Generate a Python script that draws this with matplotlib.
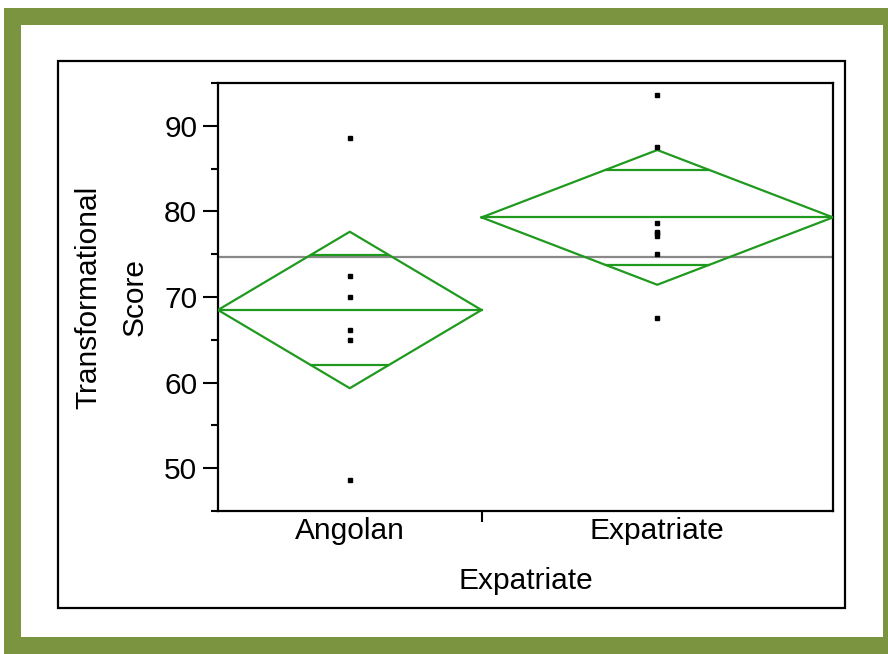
import numpy as np
import matplotlib
matplotlib.use('Agg')
import matplotlib.pyplot as plt
from matplotlib.patches import Rectangle

plt.rcParams['font.family'] = ['Liberation Sans', 'DejaVu Sans']

# data
groups = ['Angolan', 'Expatriate']
angolan = [88.6, 72.5, 70.0, 66.2, 65.0, 48.6]
expatriate = [93.6, 87.5, 78.6, 77.6, 77.5, 77.1, 75.0, 67.5]
ci_half = [9.14, 7.87]   # half height of the means diamonds

green = '#1f9a1f'
fs = 21.5

fig = plt.figure(figsize=(8.88, 6.54), dpi=100)
W, H = 888, 654

# green border, white panel, black frame
fig.patches.append(Rectangle((4 / W, 0), 884 / W, 646 / H, transform=fig.transFigure,
                             facecolor='#7a9440', edgecolor='none', zorder=-3))
fig.patches.append(Rectangle((21 / W, 17 / H), 862 / W, 612 / H, transform=fig.transFigure,
                             facecolor='white', edgecolor='none', zorder=-2))
fig.patches.append(Rectangle((58 / W, 46 / H), 787 / W, 547 / H, transform=fig.transFigure,
                             facecolor='none', edgecolor='black', linewidth=1.6, zorder=-1))

ax = fig.add_axes([218 / W, 1 - 511 / H, (833 - 218) / W, (511 - 83) / H])
ax.set_zorder(5)
ax.set_facecolor('white')

data = [angolan, expatriate]
counts = [len(d) for d in data]
edges = np.concatenate([[0], np.cumsum(counts)])
centers = (edges[:-1] + edges[1:]) / 2
grand = np.mean(angolan + expatriate)

ax.axhline(grand, color='#888888', linewidth=1.6, zorder=2)

for i, vals in enumerate(data):
    m = np.mean(vals)
    h = ci_half[i]
    x0, x1, xc = edges[i], edges[i + 1], centers[i]
    ax.plot([x0, xc, x1, xc, x0], [m, m + h, m, m - h, m], color=green, linewidth=1.6, zorder=3)
    ax.plot([x0, x1], [m, m], color=green, linewidth=1.6, zorder=3)
    d = (x1 - xc) * (1 - 1 / np.sqrt(2))
    for s in (1, -1):
        ax.plot([xc - d, xc + d], [m + s * h / np.sqrt(2)] * 2, color=green, linewidth=1.6, zorder=3)
    ax.plot([xc] * len(vals), vals, 's', color='black', markersize=3, zorder=4)

ax.set_xlim(edges[0], edges[-1])
ax.set_ylim(45, 95)

ax.set_yticks([50, 60, 70, 80, 90])
ax.set_yticks(np.arange(45, 96, 10), minor=True)
ax.tick_params(axis='y', which='major', length=11, width=1.5, labelsize=fs, pad=4)
ax.tick_params(axis='y', which='minor', length=5, width=1.5)

ax.set_xticks(centers)
ax.set_xticklabels(groups)
ax.set_xticks(edges[1:-1], minor=True)
ax.tick_params(axis='x', which='major', length=0, labelsize=fs, pad=4)
ax.tick_params(axis='x', which='minor', length=8, width=1.5)

for sp in ax.spines.values():
    sp.set_linewidth(1.6)

ax.set_xlabel('Expatriate', fontsize=fs, labelpad=16)
ax.set_ylabel('Transformational\nScore', fontsize=fs, linespacing=1.85, labelpad=11)

fig.savefig('out.png', dpi=100)
